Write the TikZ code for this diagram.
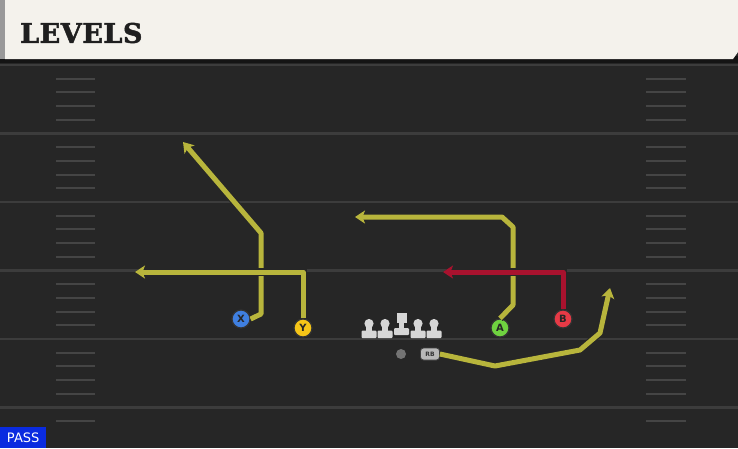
\documentclass[tikz,border=0pt]{standalone}
\usepackage{fontspec}
\newfontfamily\headfont[FakeBold=1.8,LetterSpace=2]{DejaVu Serif}
\newfontfamily\uifont{DejaVu Sans}
\usetikzlibrary{arrows.meta}
\definecolor{fieldbg}{HTML}{262626}
\definecolor{yardline}{HTML}{3C3C3C}
\definecolor{hashc}{HTML}{454545}
\definecolor{cream}{HTML}{F4F2EC}
\definecolor{routeY}{HTML}{B8B53C}
\definecolor{routeR}{HTML}{A8122E}
\definecolor{pX}{HTML}{3F7FE0}
\definecolor{pY}{HTML}{F5C518}
\definecolor{pA}{HTML}{6FD240}
\definecolor{pB}{HTML}{E63A46}
\definecolor{linec}{HTML}{D6D6D6}
\definecolor{passblue}{HTML}{0A2BE0}
\tikzset{
  route/.style={line width=5pt, draw=#1, line join=round,
    -{Stealth[length=10pt,width=13pt,inset=2.5pt]},
    preaction={draw=black!85, line width=7.2pt,
      -{Stealth[length=11.5pt,width=15.5pt,inset=2.5pt]}}},
  player/.style={circle, draw=black!80, line width=1.2pt, fill=#1, minimum size=18pt,
    inner sep=0pt, font=\uifont\bfseries\fontsize{10}{10}\selectfont, text=black!85},
  yard/.style={draw=yardline, line width=2.2pt},
  hashm/.style={draw=hashc, line width=2pt},
}
\begin{document}
\begin{tikzpicture}[x=1pt,y=-1pt]
\useasboundingbox (0,0) rectangle (738,448);
\fill[fieldbg] (0,0) rectangle (738,448);
% yard lines
\foreach \yy in {65,133.5,202,270.5,339,407.5}{
  \draw[yard] (0,\yy) -- (738,\yy);
}
% hash marks
\foreach \yy in {65,133.5,202,270.5,339}{
  \foreach \k in {1,2,3,4}{
    \draw[hashm] (56,\yy+\k*13.7) -- (95,\yy+\k*13.7);
    \draw[hashm] (646,\yy+\k*13.7) -- (686,\yy+\k*13.7);
  }
}
\draw[hashm] (56,407.5+13.7) -- (95,407.5+13.7);
\draw[hashm] (646,407.5+13.7) -- (686,407.5+13.7);
% header
\fill[black!92] (0,56) rectangle (738,63);
\fill[cream] (5,0) -- (738,0) -- (738,52) -- (733,59) -- (5,59) -- cycle;
\fill[black!40] (0,0) rectangle (5,59);
\node[anchor=west, inner sep=0pt, font=\headfont\bfseries\fontsize{27}{27}\selectfont, text=black!88]
  (title) at (20,33) {LEVELS};
% players
\node[player=pX] (X) at (241,319) {X};
\node[player=pY] (Y) at (303,328) {Y};
\node[player=pA] (A) at (500,328) {A};
\node[player=pB] (B) at (563,319) {B};
% routes
\coordinate (xe) at (183,142);
\coordinate (ye) at (135,272);
\coordinate (ae) at (355,217);
\coordinate (be) at (443,272);
\coordinate (re) at (610,288);
\draw[route=routeY] (X.east) -- (261,314) -- (261,233) -- (xe);
\draw[route=routeY] (Y.north) -- (303,272) -- (ye);
\draw[route=routeY] (A.north) -- (513,305) -- (513,227) -- (502,217) -- (ae);
\draw[route=routeR] (B.north) -- (563,272) -- (be);
% linemen
\foreach \lx/\nm in {369/lt,385/lg,418/rg,434/rt}{
  \fill[linec] (\lx,323.5) circle (4.6pt);
  \fill[linec] (\lx-2.6,323) rectangle (\lx+2.6,333);
  \fill[linec, rounded corners=1pt] (\lx-7.5,330.5) rectangle (\lx+7.5,338);
  \coordinate (\nm) at (\lx,330);
}
\fill[linec] (396.5,313) rectangle (406.5,322.5);
\fill[linec] (399,321) rectangle (404,330);
\fill[linec, rounded corners=1pt] (394,328) rectangle (409,335);
\coordinate (c) at (401.5,325);
% QB and RB
\node[circle, fill=black!55, minimum size=10pt, inner sep=0pt] (QB) at (401,354) {};
\node[rounded corners=3pt, fill=black!28, draw=black!75, line width=0.8pt, minimum width=19pt, minimum height=12pt, inner sep=0pt,
  font=\uifont\bfseries\fontsize{6}{6}\selectfont, text=black!80] (RB) at (430,354) {RB};
\draw[route=routeY] (RB.east) -- (495,366) -- (580,350) -- (600,333) -- (re);
% pass label
\node[anchor=south west, fill=passblue, inner sep=0pt, minimum width=46pt, minimum height=21pt,
  text=white, font=\uifont\fontsize{13}{13}\selectfont] (pass) at (0,448) {PASS};
\end{tikzpicture}
\end{document}
